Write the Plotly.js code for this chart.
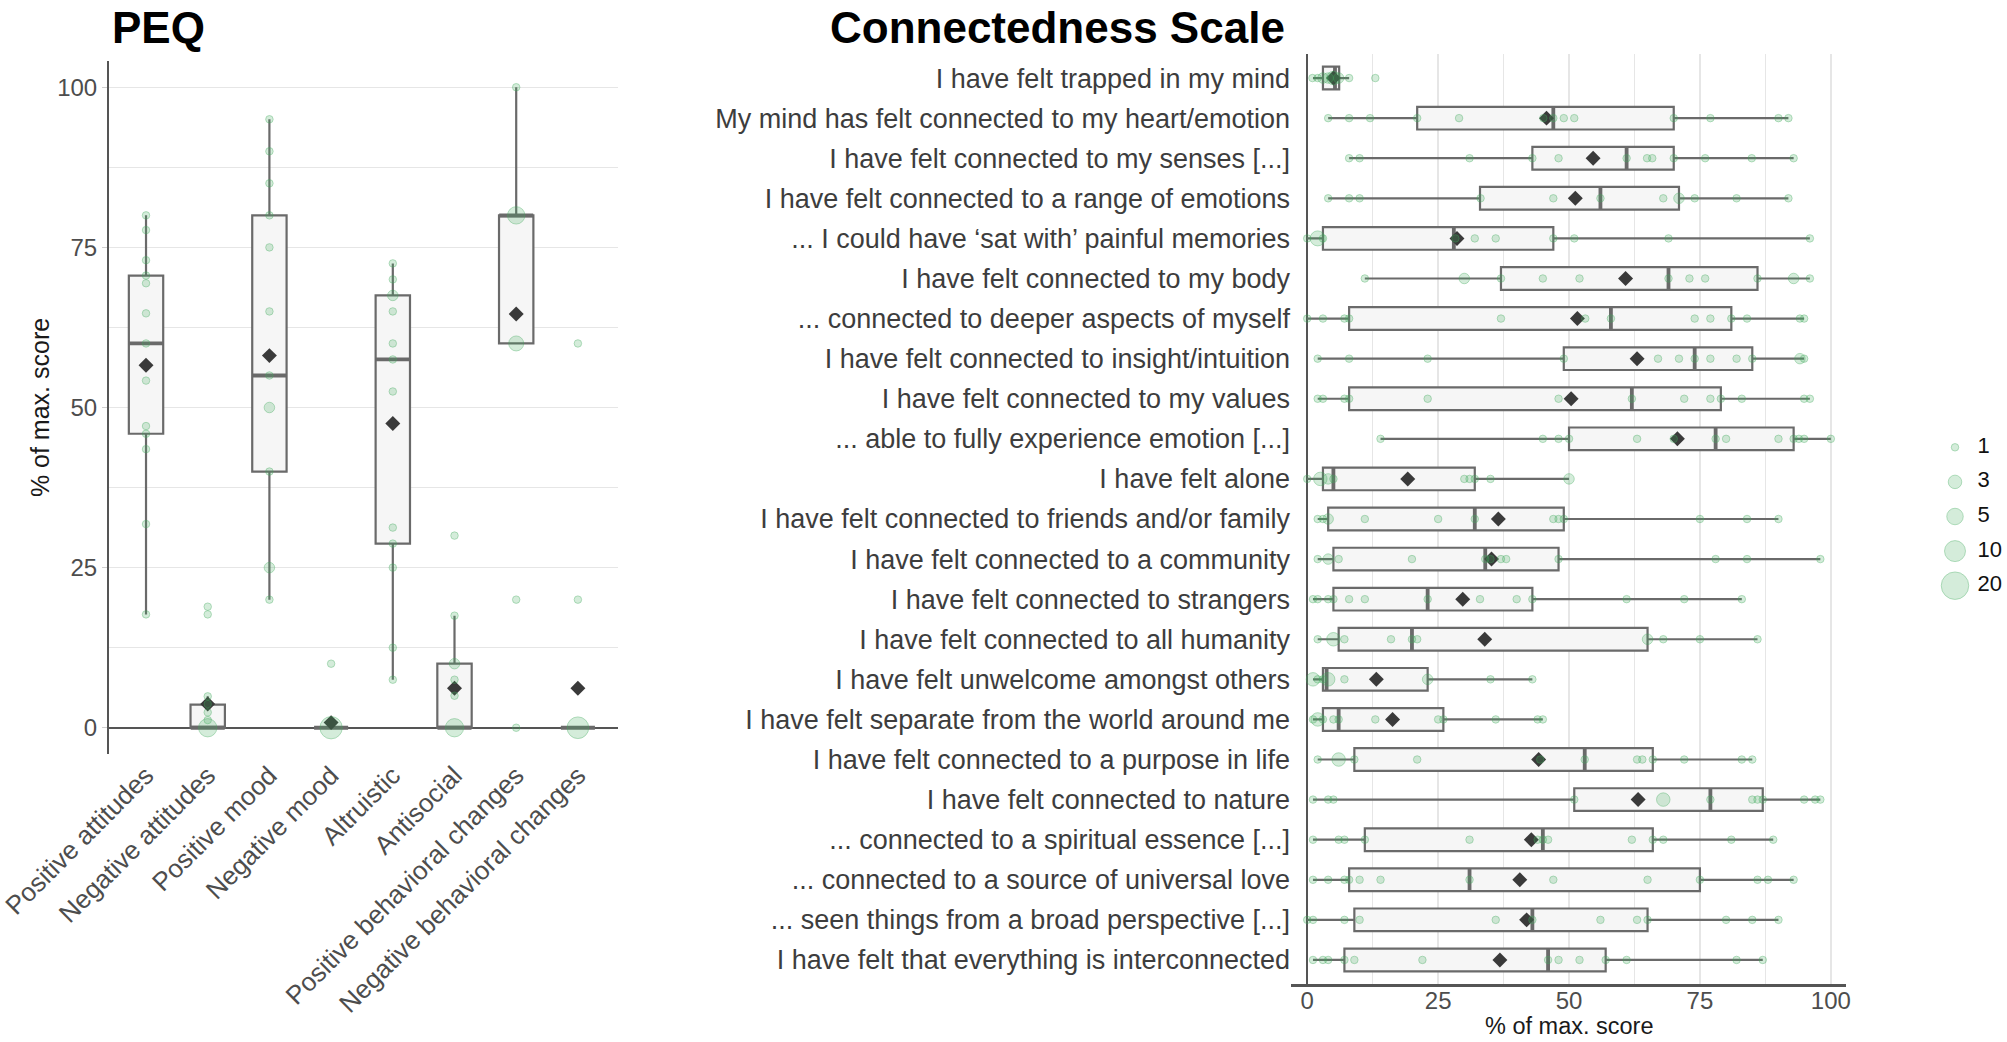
<!DOCTYPE html>
<html>
<head>
<meta charset="utf-8">
<script src="https://cdn.plot.ly/plotly-3.0.1.min.js"></script>
<style>
html,body{margin:0;padding:0;background:#ffffff;}
#chart{width:2007px;height:1042px;}
</style>
</head>
<body>
<div id="chart"></div>
<script>
// ---------------- PEQ panel data ----------------
const peqCategories = ['Positive attitudes','Negative attitudes','Positive mood','Negative mood','Altruistic','Antisocial','Positive behavioral changes','Negative behavioral changes'];
const peqQ1 = [45.9, 0, 40, 0, 28.75, 0, 60, 0];
const peqMedian = [60, 0, 55, 0, 57.5, 0, 80, 0];
const peqQ3 = [70.6, 3.6, 80, 0, 67.5, 10, 80, 0];
const peqLowerWhisker = [17.7, 0, 20, 0, 7.5, 0, 60, 0];
const peqUpperWhisker = [80, 4.9, 95, 0, 72.5, 17.5, 100, 0];
const peqMean = [56.6, 3.7, 58.1, 0.8, 47.5, 6.15, 64.6, 6.15];
const peqPointValues = [
  [17.7, 31.8, 43.5, 45.9, 47.1, 54.2, 60, 64.7, 69.4, 70.6, 73, 77.7, 80],
  [0, 1.2, 2.4, 3.7, 4.9, 17.7, 18.9],
  [20, 25, 40, 50, 55, 65, 75, 80, 85, 90, 95],
  [0, 10],
  [7.5, 12.5, 25, 28.75, 31.25, 52.5, 57.5, 60, 65, 67.5, 70, 72.5],
  [0, 5, 7.5, 10, 17.5, 30],
  [0, 20, 60, 80, 100],
  [0, 20, 60]
];
const peqPointCounts = [
  [1,1,1,1,1,1,1,1,1,1,1,1,1],
  [7,1,1,1,1,1,1],
  [1,2,1,2,1,1,1,1,1,1,1],
  [12,1],
  [1,1,1,1,1,1,1,1,1,2,1,1],
  [7,1,1,2,1,1],
  [1,1,4,6,1],
  [11,1,1]
];

// ---------------- Connectedness panel data ----------------
const connItems = [
  'I have felt trapped in my mind',
  'My mind has felt connected to my heart/emotion',
  'I have felt connected to my senses [...]',
  'I have felt connected to a range of emotions',
  '... I could have \u2018sat with\u2019 painful memories',
  'I have felt connected to my body',
  '... connected to deeper aspects of myself',
  'I have felt connected to insight/intuition',
  'I have felt connected to my values',
  '... able to fully experience emotion [...]',
  'I have felt alone',
  'I have felt connected to friends and/or family',
  'I have felt connected to a community',
  'I have felt connected to strangers',
  'I have felt connected to all humanity',
  'I have felt unwelcome amongst others',
  'I have felt separate from the world around me',
  'I have felt connected to a purpose in life',
  'I have felt connected to nature',
  '... connected to a spiritual essence [...]',
  '... connected to a source of universal love',
  '... seen things from a broad perspective [...]',
  'I have felt that everything is interconnected'
];
const connQ1 = [3.0,21,43,33,3,37,8,49,8,50,3,4,5,5,6,3,3,9,51,11,8,9,7.1];
const connMedian = [5.3,47,61,56,28,69,58,74,62,78,5,32,34,23,20,3.7,6,53,77,45,31,43,46];
const connQ3 = [6.1,70,70,71,47,86,81,85,79,92.9,32,49,48,43,65,23,26,66,87,66,75,65,57];
const connLowerWhisker = [1.1,4,8,4,0,11,0,2,2,14,0,2,2,1.1,2,1.1,1.1,2,1.1,1.1,1.1,0,1.1];
const connUpperWhisker = [8,91.9,92.9,91.9,96,96,94.9,94.9,96,100,50,90,98,83,86,43,45,85,98,89,92.9,90,87];
const connMean = [5.0,45.7,54.6,51.2,28.6,60.8,51.6,63.0,50.4,70.7,19.2,36.5,35.2,29.7,33.9,13.2,16.3,44.2,63.2,42.8,40.6,41.9,36.8];
const connPointValues = [
  [1.0,2.0,3.0,4.0,5.0,6.0,8.0,13.0],
  [4,8,12,21,29,45.1,47,49,51,70,77,90,91.9],
  [8,10,31,43,48,61,64.9,65.9,70,76,84.9,92.9],
  [4,8,10,33.1,47,56,68,71,74,82,91.9],
  [0,2,3,28.3,32,36,47,51,69,96],
  [11,30,37,45,52,69,73,76,86,92.9,96],
  [0,3,7.1,8,37,53.1,58,74,77,81,84,94.1,94.9],
  [2,8,23,49,67,71,74,77,82,85,94.1,94.9],
  [2,3,7.1,8,23,48,62,72,77,79,83,94.9,96],
  [14,45,48,50,63,70,78,80,90,92.9,93.9,94.9,100],
  [0,2.5,4,5,30,31,32,35,50],
  [2,3,4,11,25,32,47,48,49,75,84,90],
  [2,4,6,20,34,35,37,38,48,78,84,98],
  [1.1,2,4,5,8,11,23,33,40,43,61,72,83],
  [2,5,7.1,16,20,21,65,68,75,86],
  [1.1,2,3,4,7.1,23,35,43],
  [1.1,2,3,5,6,13,25,26,36,44,45],
  [2,6,9,21,44.5,53,63,64,66,72,83,85],
  [1.1,4,5,51,68,77,85,86,87,94.9,97,98],
  [1.1,6,7.1,11,31,44,45,46,62,66,68,81,89],
  [1.1,4,7.1,8,10,14,31,47,65,75,86,88,92.9],
  [0,1.1,7.1,10,36,43,56,63,65,80,85,90],
  [1.1,3,4,7.1,9,22,46,48,52,57,61,82,87]
];
const connPointCounts = [
  [1,1,2,2,3,2,1,1],
  [1,1,1,1,1,1,1,1,1,1,1,1,1],
  [1,1,1,1,1,1,1,1,1,1,1,1],
  [1,1,1,1,1,1,1,2,1,1,1],
  [1,4,1,1,1,1,1,1,1,1],
  [1,2,1,1,1,1,1,1,1,2,1],
  [1,1,1,1,1,1,1,1,1,1,1,1,1],
  [1,1,1,1,1,1,1,1,1,1,2,1],
  [1,1,1,1,1,1,1,1,1,1,1,1,1],
  [1,1,1,1,1,1,1,1,1,1,1,1,1],
  [1,3,2,1,1,1,1,1,2],
  [1,1,2,1,1,1,1,1,1,1,1,1],
  [1,2,1,1,1,1,1,1,1,1,1,1],
  [1,1,1,1,1,1,1,1,1,1,1,1,1],
  [1,3,1,1,1,1,2,1,1,1],
  [3,1,1,3,1,2,1,1],
  [1,3,1,1,1,1,1,1,1,1,1],
  [1,3,1,1,1,1,1,1,1,1,1,1],
  [1,1,1,1,3,1,1,1,1,1,1,1],
  [1,1,1,1,1,1,1,1,1,1,1,1,1],
  [1,1,1,1,1,1,1,1,1,1,1,1,1],
  [1,1,1,1,1,1,1,1,1,1,1,1],
  [1,1,1,1,1,1,1,1,1,1,1,1,1]
];

// ---------------- size legend ----------------
const legendCounts = [1, 3, 5, 10, 20];
const legendLabels = ['1', '3', '5', '10', '20'];

// ---------------- styles ----------------
const legendDiameters = [7.5, 13.5, 16.5, 21, 27.5];
function dotDiameter(n) {
  if (n <= legendCounts[0]) return legendDiameters[0];
  for (let i = 1; i < legendCounts.length; i++) {
    if (n <= legendCounts[i]) {
      const t = (n - legendCounts[i-1]) / (legendCounts[i] - legendCounts[i-1]);
      return legendDiameters[i-1] + t * (legendDiameters[i] - legendDiameters[i-1]);
    }
  }
  return legendDiameters[legendDiameters.length - 1];
}
const DOT_FILL = 'rgba(65,171,93,0.32)';
const DOT_LINE = 'rgba(65,171,93,0.55)';
const BOX_LINE = '#6a6a6a';
const BOX_FILL = '#f6f6f6';
const MEAN_COL = '#3a3a3a';
const AXIS_COL = '#555555';
const GRID_COL = '#e6e6e6';
const FONT = 'Liberation Sans, Arial, Helvetica, sans-serif';

function flattenPoints(cats, vals, counts) {
  const c = [], v = [], s = [];
  cats.forEach((cat, i) => {
    vals[i].forEach((val, j) => {
      c.push(cat); v.push(val); s.push(dotDiameter(counts[i][j]));
    });
  });
  return {c, v, s};
}

const W = 2007, H = 1042;
const fx = p => p / W;
const fy = p => 1 - p / H;

const peqPts = flattenPoints(peqCategories, peqPointValues, peqPointCounts);
const connPts = flattenPoints(connItems, connPointValues, connPointCounts);

const traces = [
  // PEQ boxes
  {
    type: 'box', xaxis: 'x', yaxis: 'y',
    x: peqCategories, q1: peqQ1, median: peqMedian, q3: peqQ3,
    lowerfence: peqLowerWhisker, upperfence: peqUpperWhisker,
    width: 0.557, whiskerwidth: 0, boxpoints: false,
    fillcolor: BOX_FILL, line: {color: BOX_LINE, width: 2.2},
    hoverinfo: 'skip'
  },
  // PEQ medians (thicker)
  {
    type: 'scatter', mode: 'markers', xaxis: 'x', yaxis: 'y',
    x: peqCategories, y: peqMedian,
    marker: {symbol: 'line-ew', size: 24.3, line: {color: BOX_LINE, width: 3.8}},
    hoverinfo: 'skip'
  },
  // PEQ means
  {
    type: 'scatter', mode: 'markers', xaxis: 'x', yaxis: 'y',
    x: peqCategories, y: peqMean,
    marker: {symbol: 'diamond', size: 11.5, color: MEAN_COL},
    hoverinfo: 'skip'
  },
  // PEQ dots
  {
    type: 'scatter', mode: 'markers', xaxis: 'x', yaxis: 'y',
    x: peqPts.c, y: peqPts.v,
    marker: {size: peqPts.s, color: DOT_FILL, line: {color: DOT_LINE, width: 1}},
    hoverinfo: 'skip'
  },
  // Connectedness boxes
  {
    type: 'box', orientation: 'h', xaxis: 'x2', yaxis: 'y2',
    y: connItems, q1: connQ1, median: connMedian, q3: connQ3,
    lowerfence: connLowerWhisker, upperfence: connUpperWhisker,
    width: 0.566, whiskerwidth: 0, boxpoints: false,
    fillcolor: BOX_FILL, line: {color: BOX_LINE, width: 2.2},
    hoverinfo: 'skip'
  },
  {
    type: 'scatter', mode: 'markers', xaxis: 'x2', yaxis: 'y2',
    x: connMedian, y: connItems,
    marker: {symbol: 'line-ns', size: 16, line: {color: BOX_LINE, width: 3.8}},
    hoverinfo: 'skip'
  },
  {
    type: 'scatter', mode: 'markers', xaxis: 'x2', yaxis: 'y2',
    x: connMean, y: connItems,
    marker: {symbol: 'diamond', size: 11.5, color: MEAN_COL},
    hoverinfo: 'skip'
  },
  {
    type: 'scatter', mode: 'markers', xaxis: 'x2', yaxis: 'y2',
    x: connPts.v, y: connPts.c,
    marker: {size: connPts.s, color: DOT_FILL, line: {color: DOT_LINE, width: 1}},
    hoverinfo: 'skip'
  },
  // size legend
  {
    type: 'scatter', mode: 'markers', xaxis: 'x3', yaxis: 'y3',
    x: legendLabels.map(() => 0), y: legendLabels,
    marker: {size: legendCounts.map(dotDiameter), color: DOT_FILL, line: {color: DOT_LINE, width: 1}},
    cliponaxis: false,
    hoverinfo: 'skip'
  },
  {
    type: 'scatter', mode: 'text', xaxis: 'x3', yaxis: 'y3',
    x: legendLabels.map(() => 0.9), y: legendLabels, text: legendLabels,
    textposition: 'middle right',
    textfont: {size: 22, color: '#111111', family: FONT},
    cliponaxis: false,
    hoverinfo: 'skip'
  }
];

const minorGrid = {dtick: 12.5, showgrid: true, gridcolor: GRID_COL, gridwidth: 1.5, ticks: ''};

const layout = {
  width: W, height: H,
  margin: {l: 0, r: 0, t: 0, b: 0},
  paper_bgcolor: '#ffffff', plot_bgcolor: 'rgba(0,0,0,0)',
  showlegend: false,
  font: {family: FONT, color: '#4d4d4d'},
  xaxis: {
    domain: [fx(109), fx(618)], anchor: 'y',
    type: 'category', categoryorder: 'array', categoryarray: peqCategories,
    range: [-0.6, 7.65], tickangle: -45,
    tickfont: {size: 26, color: '#4d4d4d'},
    showgrid: false, zeroline: false, showline: false, ticks: '', fixedrange: true
  },
  yaxis: {
    domain: [fy(754), fy(61)], anchor: 'x',
    range: [-4.1, 104.1], tickmode: 'linear', tick0: 0, dtick: 25,
    minor: minorGrid,
    showgrid: true, gridcolor: GRID_COL, gridwidth: 1.5,
    zeroline: true, zerolinecolor: AXIS_COL, zerolinewidth: 2,
    showline: true, linecolor: AXIS_COL, linewidth: 2,
    ticks: 'outside', ticklen: 5, tickcolor: '#d0d0d0', tickwidth: 1,
    tickfont: {size: 24, color: '#4d4d4d'},
    title: {text: '% of max. score', font: {size: 25, color: '#1a1a1a'}, standoff: 0}
  },
  xaxis2: {
    domain: [fx(1291), fx(1846)], anchor: 'y2',
    range: [-3.1, 102.9], tickmode: 'linear', tick0: 0, dtick: 25,
    minor: minorGrid,
    showgrid: true, gridcolor: GRID_COL, gridwidth: 1.5,
    zeroline: true, zerolinecolor: AXIS_COL, zerolinewidth: 2.5,
    showline: true, linecolor: AXIS_COL, linewidth: 2.5,
    ticks: '', ticklabelstandoff: -6,
    tickfont: {size: 24, color: '#4d4d4d'}
  },
  yaxis2: {
    domain: [fy(984), fy(54)], anchor: 'x2',
    type: 'category', categoryorder: 'array', categoryarray: connItems,
    range: [22.6, -0.6],
    tickfont: {size: 27, color: '#3d3d3d'},
    showgrid: false, zeroline: false, showline: false, ticks: ''
  },
  xaxis3: {domain: [fx(1930), fx(1980)], anchor: 'y3', range: [-1, 1], visible: false},
  yaxis3: {domain: [fy(603), fy(430)], anchor: 'x3', type: 'category',
           categoryorder: 'array', categoryarray: legendLabels, range: [4.5, -0.5], visible: false},
  annotations: [
    {text: 'PEQ', xref: 'paper', yref: 'paper', x: fx(110), y: fy(27),
     xanchor: 'left', yanchor: 'middle', showarrow: false,
     font: {size: 44, color: '#000000', family: FONT, weight: 700}},
    {text: 'Connectedness Scale', xref: 'paper', yref: 'paper', x: fx(1287), y: fy(27),
     xanchor: 'right', yanchor: 'middle', showarrow: false,
     font: {size: 44, color: '#000000', family: FONT, weight: 700}},
    {text: '% of max. score', xref: 'x2 domain', yref: 'paper', x: 0.5, y: fy(1026),
     xanchor: 'center', yanchor: 'middle', showarrow: false,
     font: {size: 23.5, color: '#1a1a1a', family: FONT}}
  ]
};

Plotly.newPlot('chart', traces, layout, {staticPlot: true, displayModeBar: false});
</script>
</body>
</html>
